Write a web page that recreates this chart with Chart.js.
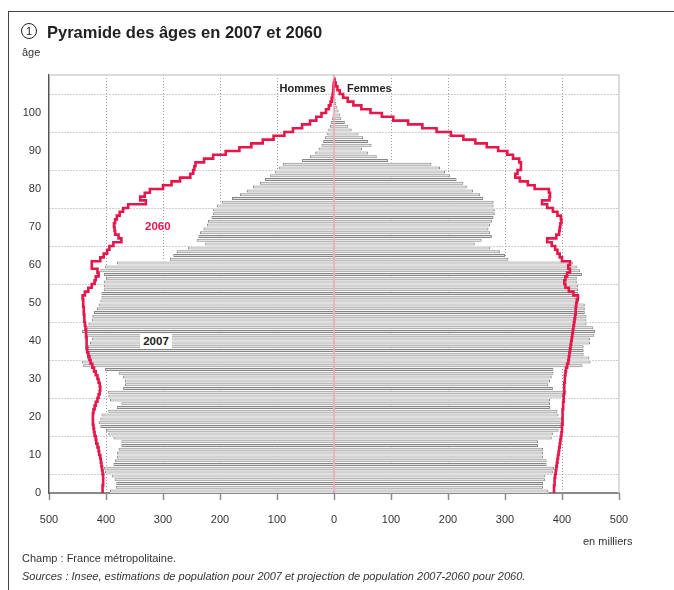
<!DOCTYPE html>
<html lang="fr">
<head>
<meta charset="utf-8">
<title>Pyramide des âges en 2007 et 2060</title>
<script src="https://cdn.jsdelivr.net/npm/chart.js@4.4.1/dist/chart.umd.min.js"></script>
<style>
  html, body { margin: 0; padding: 0; background: #fff; }
  body {
    width: 674px; height: 590px; position: relative; overflow: hidden;
    font-family: "Liberation Sans", Arial, sans-serif; color: #222;
  }
  #cadre {
    position: absolute; left: 8px; top: 11px; width: 700px; height: 620px;
    border-left: 1px solid #444; border-top: 1px solid #444;
  }
  #pyramide { position: absolute; left: 0; top: 0; }
  .txt { position: absolute; white-space: nowrap; }
  #numero {
    position: absolute; left: 21px; top: 23px; width: 14px; height: 14px;
    border: 1.2px solid #222; border-radius: 50%;
    font-size: 11px; line-height: 14px; text-align: center;
  }
  #titre { left: 47px; top: 22px; font-size: 16.5px; line-height: 20px; font-weight: bold; }
  #age { left: 22px; top: 46px; font-size: 11px; line-height: 12px; color: #333; }
  #hommes { right: 348px; top: 82px; font-size: 11px; line-height: 12px; font-weight: bold; }
  #femmes { left: 347px; top: 82px; font-size: 11px; line-height: 12px; font-weight: bold; }
  #lbl2060 { left: 145px; top: 220px; font-size: 11.5px; line-height: 12px; font-weight: bold; color: #e5174b; }
  #lbl2007 {
    left: 140px; top: 334px; width: 32px; height: 15px; background: #fff;
    font-size: 11.5px; line-height: 15px; font-weight: bold; text-align: center;
  }
  #unite { left: 583px; top: 535px; font-size: 11px; line-height: 12px; color: #333; }
  #champ { left: 22px; top: 552px; font-size: 11px; line-height: 12px; color: #333; }
  #sources { left: 22px; top: 570px; font-size: 11px; line-height: 12px; color: #333; font-style: italic; }
</style>
</head>
<body>
<div id="cadre"></div>
<canvas id="pyramide" width="674" height="590"></canvas>
<div id="numero">1</div>
<div class="txt" id="titre">Pyramide des âges en 2007 et 2060</div>
<div class="txt" id="age">âge</div>
<div class="txt" id="hommes">Hommes</div>
<div class="txt" id="femmes">Femmes</div>
<div class="txt" id="lbl2060">2060</div>
<div class="txt" id="lbl2007">2007</div>
<div class="txt" id="unite">en milliers</div>
<div class="txt" id="champ">Champ : France métropolitaine.</div>
<div class="txt" id="sources">Sources : Insee, estimations de population pour 2007 et projection de population 2007-2060 pour 2060.</div>

<script>
// âges (bas de chaque tranche d'un an)
const ages = [
  0, 1, 2, 3, 4, 5, 6, 7, 8, 9,
  10, 11, 12, 13, 14, 15, 16, 17, 18, 19,
  20, 21, 22, 23, 24, 25, 26, 27, 28, 29,
  30, 31, 32, 33, 34, 35, 36, 37, 38, 39,
  40, 41, 42, 43, 44, 45, 46, 47, 48, 49,
  50, 51, 52, 53, 54, 55, 56, 57, 58, 59,
  60, 61, 62, 63, 64, 65, 66, 67, 68, 69,
  70, 71, 72, 73, 74, 75, 76, 77, 78, 79,
  80, 81, 82, 83, 84, 85, 86, 87, 88, 89,
  90, 91, 92, 93, 94, 95, 96, 97, 98, 99,
  100, 101, 102, 103, 104, 105, 106, 107, 108, 109
];

// population 2007, en milliers (âges 0 à 105)
const hommes2007 = [
  393, 383, 382, 385, 390, 402, 404, 387, 384, 381,
  381, 378, 373, 373, 387, 396, 400, 410, 413, 410,
  408, 396, 381, 373, 393, 396, 397, 370, 367, 367,
  370, 378, 402, 440, 442, 434, 434, 434, 432, 428,
  425, 434, 442, 434, 431, 425, 424, 421, 416, 413,
  410, 408, 408, 404, 404, 404, 400, 404, 410, 402,
  381, 288, 282, 276, 256, 226, 241, 238, 235, 229,
  223, 221, 215, 212, 212, 206, 197, 179, 165, 153,
  142, 130, 121, 112, 104, 97, 90, 56, 42, 33,
  27, 22, 19, 16, 12, 10, 7, 5, 3.5, 2.5,
  1.5, 1, 0.6, 0.4, 0.2, 0.1
];
const femmes2007 = [
  376, 367, 367, 370, 370, 384, 386, 373, 373, 367,
  367, 367, 358, 358, 382, 384, 394, 400, 400, 400,
  394, 392, 379, 379, 379, 402, 408, 384, 376, 379,
  382, 385, 385, 436, 450, 448, 438, 438, 438, 449,
  449, 457, 458, 455, 443, 443, 443, 440, 440, 440,
  430, 430, 428, 428, 428, 426, 426, 435, 432, 426,
  419, 306, 300, 291, 274, 247, 259, 277, 274, 271,
  274, 277, 280, 282, 282, 280, 280, 262, 256, 244,
  233, 227, 215, 204, 195, 186, 171, 95, 75, 60,
  49, 66, 60, 51, 43, 31, 25, 19, 13, 11,
  8, 6, 4, 3, 2, 1
];

// projection 2060, en milliers
const hommes2060 = [
  406, 406, 405, 405, 405, 406, 407, 408, 409, 410,
  412, 413, 415, 417, 418, 420, 421, 422, 423, 423,
  423, 422, 420, 418, 415, 413, 411, 410, 411, 413,
  415, 418, 421, 424, 427, 429, 431, 433, 434, 434,
  434, 435, 435, 436, 437, 438, 438, 439, 439, 440,
  440, 441, 437, 431, 425, 420, 418, 413, 415, 425,
  425, 410, 404, 398, 394, 387, 373, 378, 384, 385,
  386, 384, 381, 376, 370, 361, 330, 340, 332, 323,
  300, 285, 270, 252, 247, 245, 243, 228, 212, 190,
  166, 145, 125, 106, 87, 72, 56, 42, 31, 22,
  14, 9, 6, 4, 2.5, 1.5, 1, 0.5, 0
];
const femmes2060 = [
  386, 386, 387, 387, 388, 389, 390, 391, 392, 393,
  394, 395, 396, 397, 398, 399, 400, 400, 401, 401,
  401, 401, 402, 402, 403, 403, 404, 404, 404, 405,
  405, 406, 407, 409, 411, 412, 413, 414, 415, 416,
  417, 418, 419, 420, 421, 422, 423, 424, 424, 425,
  426, 428, 420, 412, 406, 404, 406, 409, 414, 411,
  414, 400, 396, 392, 388, 382, 374, 390, 395, 396,
  397, 399, 398, 392, 384, 374, 365, 378, 379, 377,
  352, 340, 326, 318, 322, 328, 328, 325, 314, 304,
  288, 268, 248, 227, 205, 180, 155, 130, 104, 84,
  64, 48, 34, 24, 16, 10, 6, 3, 1, 0
];

const xTicks = [-500, -400, -300, -200, -100, 0, 100, 200, 300, 400, 500];
const yTicks = [0, 10, 20, 30, 40, 50, 60, 70, 80, 90, 100];

const ROUGE = '#e5174b';
const POLICE = '"Liberation Sans", Arial, sans-serif';
const EPAISSEUR = 0.8; // part de la tranche occupée par la barre

// barres : une tranche d'âge [a, a+1], centrée sur a + 0.5
const barres = (vals, signe) => vals.map((v, i) => ({ x: signe * v, y: ages[i] + 0.5 }));
const courbe = (vals, signe) => vals.map((v, i) => ({ x: signe * v, y: ages[i] }));

// fond blanc sous les barres pour masquer le quadrillage
const fondPlugin = {
  id: 'fond',
  beforeDatasetsDraw(chart) {
    const ctx = chart.ctx;
    ctx.save();
    ctx.fillStyle = '#fff';
    chart.data.datasets.forEach((ds, i) => {
      if (ds.type === 'line') return;
      chart.getDatasetMeta(i).data.forEach(el => {
        const { x, y, base, height } = el.getProps(['x', 'y', 'base', 'height'], true);
        const h = height / EPAISSEUR;
        ctx.fillRect(Math.min(x, base), y - h / 2, Math.abs(x - base), h);
      });
    });
    ctx.restore();
  }
};

// cadre haut/droite + axe du zéro en rose
const cadrePlugin = {
  id: 'cadre',
  afterDatasetsDraw(chart) {
    const { ctx, chartArea: a, scales } = chart;
    const x0 = scales.x.getPixelForValue(0);
    ctx.save();
    ctx.strokeStyle = '#cfcfcf';
    ctx.lineWidth = 1.5;
    ctx.beginPath();
    ctx.moveTo(a.left, a.top);
    ctx.lineTo(a.right, a.top);
    ctx.lineTo(a.right, a.bottom);
    ctx.stroke();
    ctx.strokeStyle = '#e9849a';
    ctx.lineWidth = 1.2;
    ctx.beginPath();
    ctx.moveTo(x0, a.bottom);
    ctx.lineTo(x0, a.top);
    ctx.stroke();
    ctx.restore();
  }
};

const lignePointillee = (bords) => (c) => {
  const v = c.tick ? c.tick.value : null;
  return bords.includes(v) ? 'rgba(0,0,0,0)' : '#9c9c9c';
};

new Chart(document.getElementById('pyramide'), {
  type: 'bar',
  data: {
    datasets: [
      {
        type: 'line', label: 'Hommes 2060', data: courbe(hommes2060, -1),
        borderColor: ROUGE, borderWidth: 2.6, pointRadius: 0, stepped: 'after',
        fill: false, order: 0
      },
      {
        type: 'line', label: 'Femmes 2060', data: courbe(femmes2060, 1),
        borderColor: ROUGE, borderWidth: 2.6, pointRadius: 0, stepped: 'after',
        fill: false, order: 0
      },
      {
        label: 'Hommes 2007', data: barres(hommes2007, -1),
        backgroundColor: '#e2e2e2', borderColor: '#858585', borderWidth: 1,
        grouped: false, barPercentage: EPAISSEUR, categoryPercentage: 1, order: 1
      },
      {
        label: 'Femmes 2007', data: barres(femmes2007, 1),
        backgroundColor: '#e2e2e2', borderColor: '#858585', borderWidth: 1,
        grouped: false, barPercentage: EPAISSEUR, categoryPercentage: 1, order: 1
      }
    ]
  },
  options: {
    indexAxis: 'y',
    responsive: false,
    animation: false,
    events: [],
    layout: { padding: { left: 0, top: 75, right: 55, bottom: 0 } },
    plugins: {
      legend: { display: false },
      tooltip: { enabled: false }
    },
    scales: {
      x: {
        type: 'linear', min: -500, max: 500, offset: false,
        afterBuildTicks: (s) => { s.ticks = xTicks.map(v => ({ value: v })); },
        afterFit: (s) => { s.height = 97; },
        ticks: {
          callback: (v) => Math.abs(v),
          color: '#333', font: { family: POLICE, size: 11 },
          padding: 13, maxRotation: 0, autoSkip: false
        },
        grid: {
          color: lignePointillee([-500, 0, 500]),
          lineWidth: 1, drawTicks: true, tickLength: 7,
          tickColor: '#8a8a8a', tickWidth: 1.5
        },
        border: { display: true, color: '#8a8a8a', width: 2, dash: [1, 2] }
      },
      y: {
        type: 'linear', min: 0, max: 110, offset: false,
        afterBuildTicks: (s) => { s.ticks = yTicks.map(v => ({ value: v })); },
        afterFit: (s) => { s.width = 49; },
        ticks: {
          color: '#333', font: { family: POLICE, size: 11 }, padding: 8
        },
        grid: {
          color: lignePointillee([0]),
          lineWidth: 1, drawTicks: false
        },
        border: { display: true, color: '#555', width: 1.5, dash: [1, 2] }
      }
    }
  },
  plugins: [fondPlugin, cadrePlugin]
});
</script>
</body>
</html>
